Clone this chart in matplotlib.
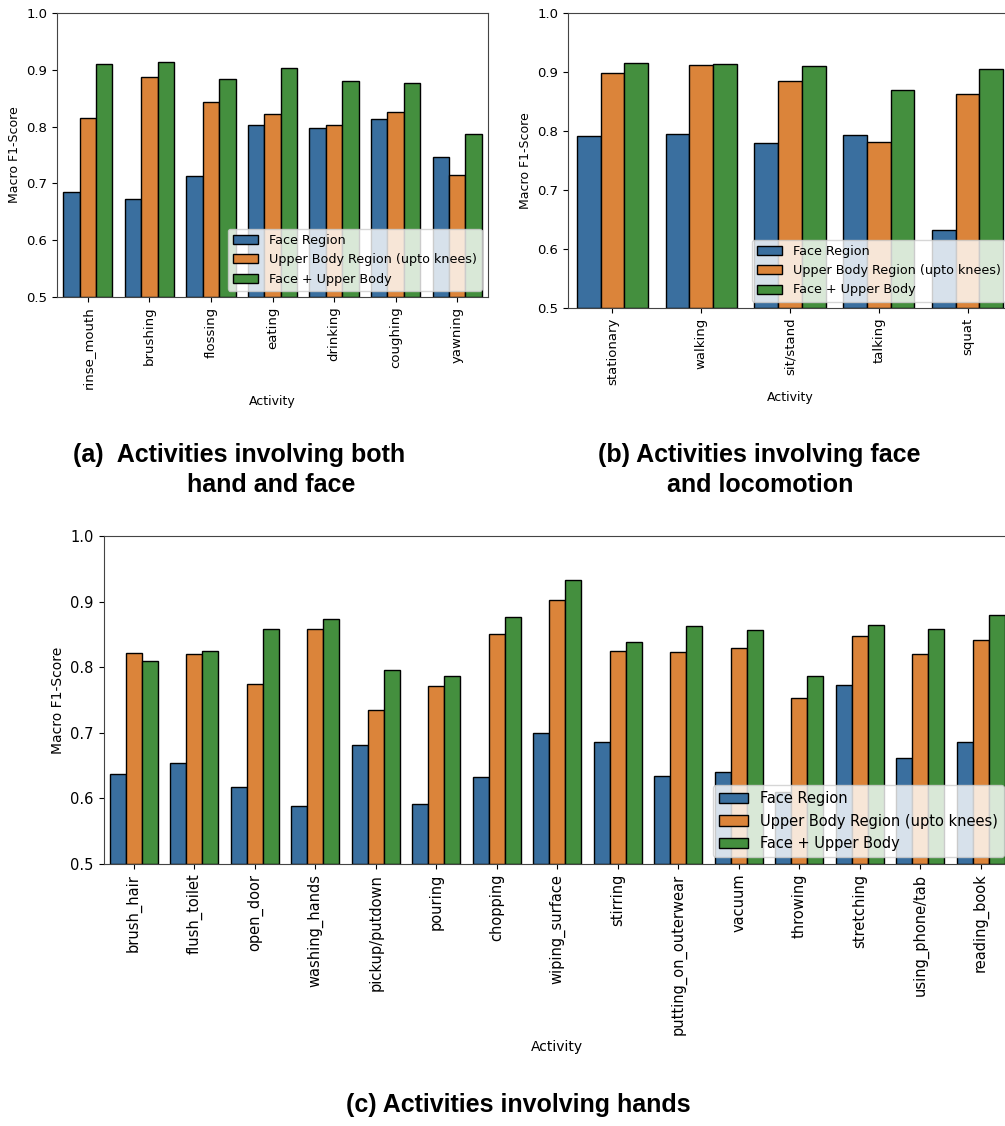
import numpy as np
import matplotlib.pyplot as plt

# Data
series = ['Face Region', 'Upper Body Region (upto knees)', 'Face + Upper Body']
colors = ['#3a6f9f', '#db843a', '#448f3e']

acts_a = ['rinse_mouth', 'brushing', 'flossing', 'eating', 'drinking', 'coughing', 'yawning']
face_a = [0.684, 0.673, 0.713, 0.802, 0.797, 0.813, 0.747]
upper_a = [0.816, 0.887, 0.844, 0.823, 0.802, 0.825, 0.715]
both_a = [0.911, 0.913, 0.883, 0.904, 0.880, 0.877, 0.787]

acts_b = ['stationary', 'walking', 'sit/stand', 'talking', 'squat']
face_b = [0.792, 0.795, 0.780, 0.794, 0.632]
upper_b = [0.898, 0.912, 0.884, 0.781, 0.862]
both_b = [0.916, 0.914, 0.910, 0.869, 0.905]

acts_c = ['brush_hair', 'flush_toilet', 'open_door', 'washing_hands', 'pickup/putdown',
          'pouring', 'chopping', 'wiping_surface', 'stirring', 'putting_on_outerwear',
          'vacuum', 'throwing', 'stretching', 'using_phone/tab', 'reading_book']
face_c = [0.637, 0.654, 0.617, 0.589, 0.681, 0.592, 0.633, 0.700, 0.686, 0.634,
          0.640, 0.610, 0.773, 0.662, 0.686]
upper_c = [0.821, 0.820, 0.774, 0.858, 0.734, 0.772, 0.850, 0.902, 0.825, 0.823,
           0.829, 0.753, 0.847, 0.820, 0.842]
both_c = [0.809, 0.824, 0.858, 0.873, 0.796, 0.786, 0.876, 0.933, 0.839, 0.863,
          0.857, 0.786, 0.864, 0.858, 0.880]

W, H = 1005, 1126
fig = plt.figure(figsize=(W / 100, H / 100), dpi=100)


def px_axes(left, top, right, bottom):
    return fig.add_axes([left / W, 1 - bottom / H, (right - left) / W, (bottom - top) / H])


def grouped(ax, acts, vals, fs, lfs, legfs):
    x = np.arange(len(acts))
    w = 0.8 / 3
    for i, (v, c, lab) in enumerate(zip(vals, colors, series)):
        ax.bar(x + (i - 1) * w, np.array(v) - 0.5, w, bottom=0.5, color=c,
               edgecolor='black', linewidth=1.0, label=lab)
    ax.set_xlim(-0.5, len(acts) - 0.5)
    ax.set_ylim(0.5, 1.0)
    ax.set_yticks([0.5, 0.6, 0.7, 0.8, 0.9, 1.0])
    ax.set_xticks(x)
    ax.set_xticklabels(acts, rotation=90, fontsize=fs)
    ax.tick_params(axis='y', labelsize=fs)
    for s in ax.spines.values():
        s.set_color('#444444')
    ax.set_xlabel('Activity', fontsize=lfs)
    ax.set_ylabel('Macro F1-Score', fontsize=lfs)
    ax.legend(loc='lower right', fontsize=legfs, framealpha=0.8)


ax_a = px_axes(57, 13, 488, 297)
grouped(ax_a, acts_a, [face_a, upper_a, both_a], 9.5, 9, 9.2)

ax_b = px_axes(568, 13, 1012, 308)
grouped(ax_b, acts_b, [face_b, upper_b, both_b], 9.5, 9, 9.2)

ax_c = px_axes(103.5, 536, 1011, 864)
grouped(ax_c, acts_c, [face_c, upper_c, both_c], 10.5, 10, 10.5)

tfont = dict(family='Liberation Sans', fontweight='bold', fontsize=18)
fig.text(73 / W, 1 - 462 / H, '(a)  Activities involving both', ha='left', va='baseline', **tfont)
fig.text(271 / W, 1 - 492 / H, 'hand and face', ha='center', va='baseline', **tfont)
fig.text(759 / W, 1 - 462 / H, '(b) Activities involving face', ha='center', va='baseline', **tfont)
fig.text(760 / W, 1 - 492 / H, 'and locomotion', ha='center', va='baseline', **tfont)
fig.text(518 / W, 1 - 1112 / H, '(c) Activities involving hands', ha='center', va='baseline', **tfont)

fig.savefig('out.png', dpi=100)
